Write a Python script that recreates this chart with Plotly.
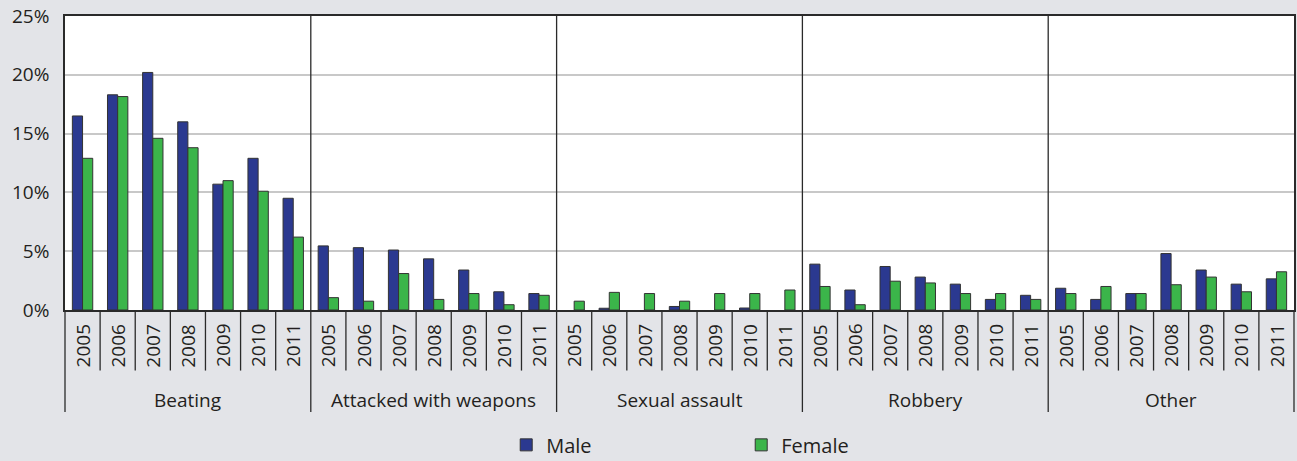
import plotly.graph_objects as go

# Share of victims by type of violence, by sex and year
CATEGORIES = ["Beating", "Attacked with weapons", "Sexual assault", "Robbery", "Other"]
YEARS = ["2005", "2006", "2007", "2008", "2009", "2010", "2011"]

MALE_BEATING = [16.5, 18.3, 20.2, 16.0, 10.7, 12.9, 9.5]
FEMALE_BEATING = [12.9, 18.15, 14.6, 13.8, 11.0, 10.1, 6.2]
MALE_WEAPONS = [5.45, 5.3, 5.1, 4.35, 3.4, 1.55, 1.4]
FEMALE_WEAPONS = [1.05, 0.75, 3.1, 0.9, 1.4, 0.45, 1.25]
MALE_SEXUAL = [0.0, 0.15, 0.0, 0.3, 0.0, 0.17, 0.0]
FEMALE_SEXUAL = [0.75, 1.5, 1.4, 0.75, 1.4, 1.4, 1.7]
MALE_ROBBERY = [3.9, 1.7, 3.7, 2.8, 2.2, 0.9, 1.25]
FEMALE_ROBBERY = [2.0, 0.45, 2.45, 2.3, 1.4, 1.4, 0.9]
MALE_OTHER = [1.85, 0.9, 1.4, 4.8, 3.4, 2.2, 2.65]
FEMALE_OTHER = [1.4, 2.0, 1.4, 2.15, 2.8, 1.55, 3.25]

Y_TICKS = [0, 5, 10, 15, 20, 25]

male = MALE_BEATING + MALE_WEAPONS + MALE_SEXUAL + MALE_ROBBERY + MALE_OTHER
female = FEMALE_BEATING + FEMALE_WEAPONS + FEMALE_SEXUAL + FEMALE_ROBBERY + FEMALE_OTHER
x_outer = [c for c in CATEGORIES for _ in YEARS]
x_inner = YEARS * len(CATEGORIES)

BG = "#e3e4e8"
TEXT = "#231f20"
FONT = "Open Sans"


def outline(vals):
    # no outline on empty bars, otherwise a stray line shows at 0
    return [1 if v > 0 else 0 for v in vals]


fig = go.Figure()
fig.add_trace(go.Bar(
    x=[x_outer, x_inner], y=male, name="Male",
    marker=dict(color="#2b3990", line=dict(color="#333333", width=outline(male))),
))
fig.add_trace(go.Bar(
    x=[x_outer, x_inner], y=female, name="Female",
    marker=dict(color="#3bb54a", line=dict(color="#333333", width=outline(female))),
))

n = len(x_inner)
shapes = []
annotations = []
# year separators and labels
for i in range(n + 1):
    long_line = i % len(YEARS) == 0
    shapes.append(dict(
        type="line", xref="paper", yref="paper",
        x0=i / n, x1=i / n,
        y0=1 if (long_line and 0 < i < n) else 0,
        y1=-0.347 if long_line else -0.206,
        line=dict(color="#2a2a2a", width=1.3),
    ))
for i, yr in enumerate(x_inner):
    annotations.append(dict(
        x=(i + 0.5) / n, y=-0.122, xref="paper", yref="paper",
        xanchor="center", yanchor="middle",
        text=yr, textangle=-90, showarrow=False,
        font=dict(size=19, color=TEXT, family=FONT),
    ))
for j, cat in enumerate(CATEGORIES):
    annotations.append(dict(
        x=(j + 0.5) / len(CATEGORIES), y=-0.306, xref="paper", yref="paper",
        xanchor="center", yanchor="middle",
        text=cat, showarrow=False,
        font=dict(size=19, color=TEXT, family=FONT),
    ))

fig.update_layout(
    width=1297, height=461,
    paper_bgcolor=BG, plot_bgcolor="white",
    margin=dict(l=65, r=1, t=16, b=151),
    barmode="group", bargap=0.42, bargroupgap=0,
    font=dict(family=FONT, color=TEXT),
    shapes=shapes, annotations=annotations,
    showlegend=True,
    legend=dict(
        orientation="h", x=0.359, xanchor="left",
        yref="container", y=0.035, yanchor="middle",
        bgcolor="rgba(0,0,0,0)", font=dict(size=20, color=TEXT, family=FONT),
        entrywidth=190, entrywidthmode="pixels",
    ),
)
fig.update_xaxes(
    type="multicategory", showticklabels=False, ticks="", showgrid=False,
    showdividers=False, showline=True, linecolor="#2a2a2a", linewidth=1.5,
    mirror=True,
)
fig.update_yaxes(
    range=[0, 25], tickvals=Y_TICKS, ticktext=[f"{v}%" for v in Y_TICKS],
    showgrid=True, gridcolor="#c8c8c8", gridwidth=1.5,
    showline=True, linecolor="#2a2a2a", linewidth=1.5, mirror=True,
    zeroline=False, ticks="", ticklabelstandoff=10,
    tickfont=dict(size=19, color=TEXT, family=FONT),
)

fig.write_html(
    "out.html",
    config={"displayModeBar": False},
    post_script="document.body.style.margin='0';",
)
